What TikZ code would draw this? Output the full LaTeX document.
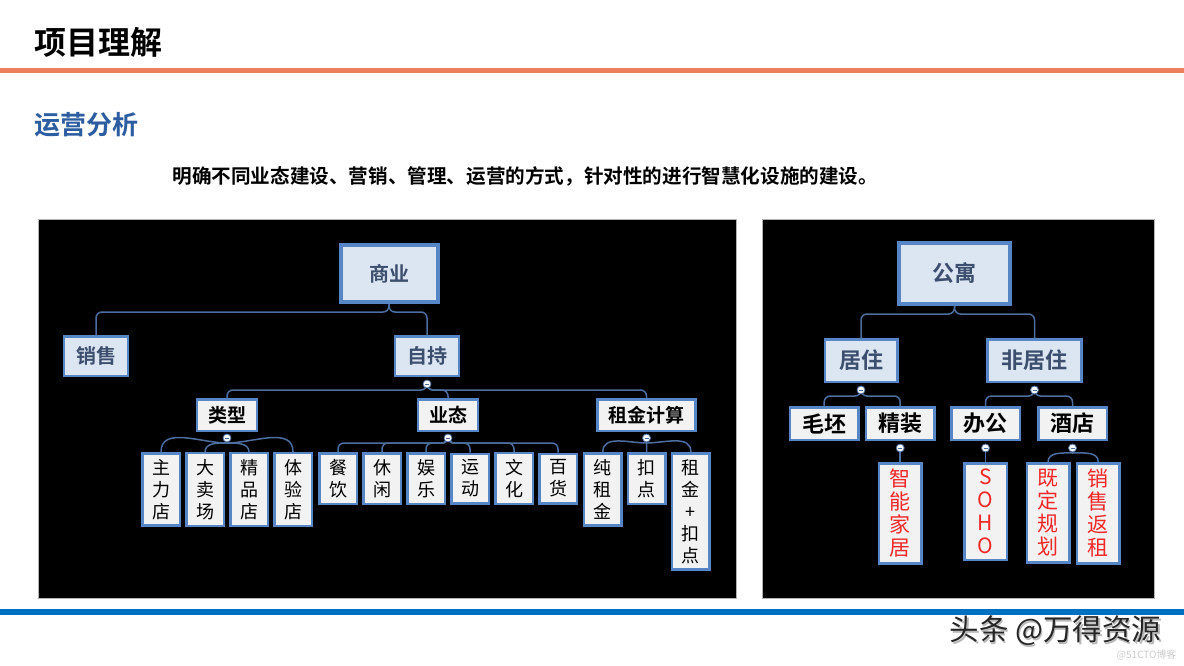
\documentclass[tikz,border=0pt]{standalone}
\usepackage{fontspec}
\setmainfont{Noto Sans CJK SC}[BoldFont={Noto Sans CJK SC Bold}]
\usepackage{tikz}
\usetikzlibrary{positioning}
\definecolor{boxblue}{HTML}{5686C6}
\definecolor{boxfill}{HTML}{DCE6F2}
\definecolor{leaffill}{HTML}{F2F2F2}
\definecolor{linkblue}{HTML}{4D6E9E}
\definecolor{slate}{HTML}{3D4F6E}
\definecolor{headorange}{HTML}{EC7F5E}
\definecolor{footblue}{HTML}{0070C0}
\definecolor{subblue}{HTML}{2B5DA0}
\definecolor{leafred}{HTML}{F02828}
\tikzstyle{link} = [draw=linkblue, line width=1.5pt, rounded corners=6pt]
\tikzstyle{curve} = [draw=linkblue, line width=1.5pt]

\begin{document}
\begin{tikzpicture}[x=1pt, y=-1pt,
    topbox/.style={
        rectangle,
        draw=boxblue,
        line width=4pt,
        fill=boxfill,
        text=slate,
        font=\fontsize{20}{24}\selectfont\bfseries
    },
    midbox/.style={
        rectangle,
        draw=boxblue,
        line width=2.5pt,
        fill=boxfill,
        text=slate,
        minimum height=39.5pt,
        inner xsep=12pt,
        font=\fontsize{20}{24}\selectfont\bfseries
    },
    catbox/.style={
        rectangle,
        draw=boxblue,
        line width=2.5pt,
        fill=leaffill,
        text=black,
        minimum height=31.5pt,
        inner xsep=11pt,
        font=\fontsize{19}{23}\selectfont\bfseries
    },
    leaf/.style={
        rectangle,
        draw=boxblue,
        line width=2.5pt,
        fill=leaffill,
        text=black,
        anchor=north,
        align=center,
        minimum width=37.5pt,
        inner xsep=0pt,
        inner ysep=6pt,
        font=\fontsize{18}{22}\selectfont
    },
    redleaf/.style={
        leaf,
        minimum width=42.5pt,
        text=leafred,
        font=\fontsize{21}{23}\selectfont
    },
    knob/.style={
        circle,
        draw=linkblue,
        line width=0.8pt,
        fill=white!85!boxfill,
        minimum size=8pt,
        inner sep=0pt,
        path picture={\draw[linkblue, line width=0.8pt]
            ([xshift=-2pt]path picture bounding box.center) --
            ([xshift=2pt]path picture bounding box.center);}
    }
    ]
    \useasboundingbox (0,0) rectangle (1184,666);

    % page header
    \node[anchor=west, font=\fontsize{32}{36}\selectfont\bfseries] (title) at (31,42) {项目理解};
    \fill[headorange] (0,68) rectangle (1184,73);
    \node[anchor=west, text=subblue, font=\fontsize{26}{30}\selectfont\bfseries] (subtitle) at (31,125) {运营分析};
    \node[anchor=west, font=\fontsize{19.6}{23}\selectfont\bfseries] (intro) at (169,176)
        {明确不同业态建设、营销、管理、运营的方式，针对性的进行智慧化设施的建设。};

    % black panels
    \draw[fill=black, draw=gray!60, line width=0.8pt] (38,219) rectangle (736,598);
    \draw[fill=black, draw=gray!60, line width=0.8pt] (762,219) rectangle (1154,598);

    % 商业 tree
    \node[topbox, minimum width=97pt, minimum height=57pt] (shangye) at (389,273.5) {商业};
    \node[midbox] (xiaoshou) at (96,356) {销售};
    \node[midbox] (ziche) at (427,356) {自持};
    \draw[link] (shangye.south) -- ++(0,8) -| (xiaoshou.north);
    \draw[link] (shangye.south) -- ++(0,8) -| (ziche.north);

    \node[catbox] (leixing) at (227,415) {类型};
    \node[catbox] (yetai) at (448,415) {业态};
    \node[catbox] (zujin) at (646.5,415) {租金计算};
    \coordinate (kz) at ([yshift=-7pt]ziche.south);
    \draw[link] (kz) -- ++(0,6) -| (leixing.north);
    \draw[link] (kz) -- ++(0,6) -| (yetai.north);
    \draw[link] (kz) -- ++(0,6) -| (zujin.north);
    \node[knob] (kzknob) at (kz) {};

    % 类型 leaves
    \node[leaf] (zhuli) at (161,452) {主\\力\\店};
    \node[leaf, right=4pt of zhuli] (maichang) {大\\卖\\场};
    \node[leaf, right=4pt of maichang] (jingpin) {精\\品\\店};
    \node[leaf, right=4pt of jingpin] (tiyan) {体\\验\\店};
    \coordinate (kl) at ([yshift=-6pt]leixing.south);
    \draw[curve] (kl) -- ++(0,5) to[out=180, in=90] (zhuli.north);
    \draw[curve] (kl) -- ++(0,5) to[out=180, in=90] (maichang.north);
    \draw[curve] (kl) -- ++(0,5) to[out=0, in=90] (jingpin.north);
    \draw[curve] (kl) -- ++(0,5) to[out=0, in=90] (tiyan.north);
    \node[knob] (klknob) at (kl) {};

    % 业态 leaves
    \node[leaf] (canyin) at (338,452) {餐\\饮};
    \node[leaf, right=4pt of canyin] (xiuxian) {休\\闲};
    \node[leaf, right=4pt of xiuxian] (yule) {娱\\乐};
    \node[leaf, right=4pt of yule] (yundong) {运\\动};
    \node[leaf, right=4pt of yundong] (wenhua) {文\\化};
    \node[leaf, right=4pt of wenhua] (baihuo) {百\\货};
    \coordinate (ky) at ([yshift=-6pt]yetai.south);
    \foreach \n in {canyin, xiuxian, yule, yundong, wenhua, baihuo}
        \draw[link] (ky) -- ++(0,5) -| (\n.north);
    \node[knob] (kyknob) at (ky) {};

    % 租金计算 leaves
    \node[leaf] (chunzu) at (602.8,452) {纯\\租\\金};
    \node[leaf] (koudian) at (646.6,452) {扣\\点};
    \node[leaf] (zukou) at (690.9,452) {租\\金\\+\\扣\\点};
    \coordinate (kr) at ([yshift=-6pt]zujin.south);
    \draw[curve] (kr) -- ++(0,5) to[out=180, in=90] (chunzu.north);
    \draw[curve] (kr) -- (koudian.north);
    \draw[curve] (kr) -- ++(0,5) to[out=0, in=90] (zukou.north);
    \node[knob] (krknob) at (kr) {};

    % 公寓 tree
    \node[topbox, minimum width=111pt, minimum height=61pt, font=\fontsize{22}{26}\selectfont\bfseries] (gongyu) at (954.5,273.5) {公寓};
    \node[midbox, minimum width=72.5pt, minimum height=42.5pt, inner xsep=14pt, font=\fontsize{22}{26}\selectfont\bfseries] (juzhu) at (861,360.5) {居住};
    \node[midbox, minimum width=72.5pt, minimum height=42.5pt, inner xsep=14pt, font=\fontsize{22}{26}\selectfont\bfseries] (feijuzhu) at (1034.5,360.5) {非居住};
    \draw[link] (gongyu.south) -- ++(0,8) -| (juzhu.north);
    \draw[link] (gongyu.south) -- ++(0,8) -| (feijuzhu.north);

    \node[catbox, minimum width=68.5pt, minimum height=32.5pt, font=\fontsize{22}{26}\selectfont\bfseries] (maopi) at (824.2,423.5) {毛坯};
    \node[catbox, minimum width=68.5pt, minimum height=32.5pt, font=\fontsize{22}{26}\selectfont\bfseries] (jingzhuang) at (900.2,423.5) {精装};
    \node[catbox, minimum width=68.5pt, minimum height=32.5pt, font=\fontsize{22}{26}\selectfont\bfseries] (bangong) at (985.5,423.5) {办公};
    \node[catbox, minimum width=68.5pt, minimum height=32.5pt, font=\fontsize{22}{26}\selectfont\bfseries] (jiudian) at (1072.5,423.5) {酒店};
    \coordinate (kj) at ([yshift=-7pt]juzhu.south);
    \draw[link] (kj) -- ++(0,6) -| (maopi.north);
    \draw[link] (kj) -- ++(0,6) -| (jingzhuang.north);
    \node[knob] (kjknob) at (kj) {};
    \coordinate (kf) at ([yshift=-7pt]feijuzhu.south);
    \draw[link] (kf) -- ++(0,6) -| (bangong.north);
    \draw[link] (kf) -- ++(0,6) -| (jiudian.north);
    \node[knob] (kfknob) at (kf) {};

    % red leaves
    \node[redleaf] (zhineng) at (900.2,462) {智\\能\\家\\居};
    \node[redleaf] (soho) at (985.5,462) {S\\O\\H\\O};
    \node[redleaf] (jiding) at (1048,462) {既\\定\\规\\划};
    \node[redleaf] (fanzu) at (1098.3,462) {销\\售\\返\\租};
    \coordinate (kjz) at ([yshift=-7pt]jingzhuang.south);
    \draw[curve] (kjz) -- (zhineng.north);
    \node[knob] (kjzknob) at (kjz) {};
    \coordinate (kb) at ([yshift=-7pt]bangong.south);
    \draw[curve] (kb) -- (soho.north);
    \node[knob] (kbknob) at (kb) {};
    \coordinate (kd) at ([yshift=-7pt]jiudian.south);
    \draw[curve] (kd) -- ++(0,5) to[out=180, in=90] (jiding.north);
    \draw[curve] (kd) -- ++(0,5) to[out=0, in=90] (fanzu.north);
    \node[knob] (kdknob) at (kd) {};

    % footer
    \fill[footblue] (0,609) rectangle (1184,615);
    \node[anchor=west, text=gray!55, font=\fontsize{29.5}{33}\selectfont] (markshadow) at (947.5,632.5) {头条 @万得资源};
    \node[anchor=west, text=black!85, font=\fontsize{29.5}{33}\selectfont] (mark) at (946,631) {头条 @万得资源};
    \node[anchor=east, text=gray!40, font=\fontsize{10}{12}\selectfont] (blog) at (1180,655) {@51CTO博客};
\end{tikzpicture}
\end{document}
